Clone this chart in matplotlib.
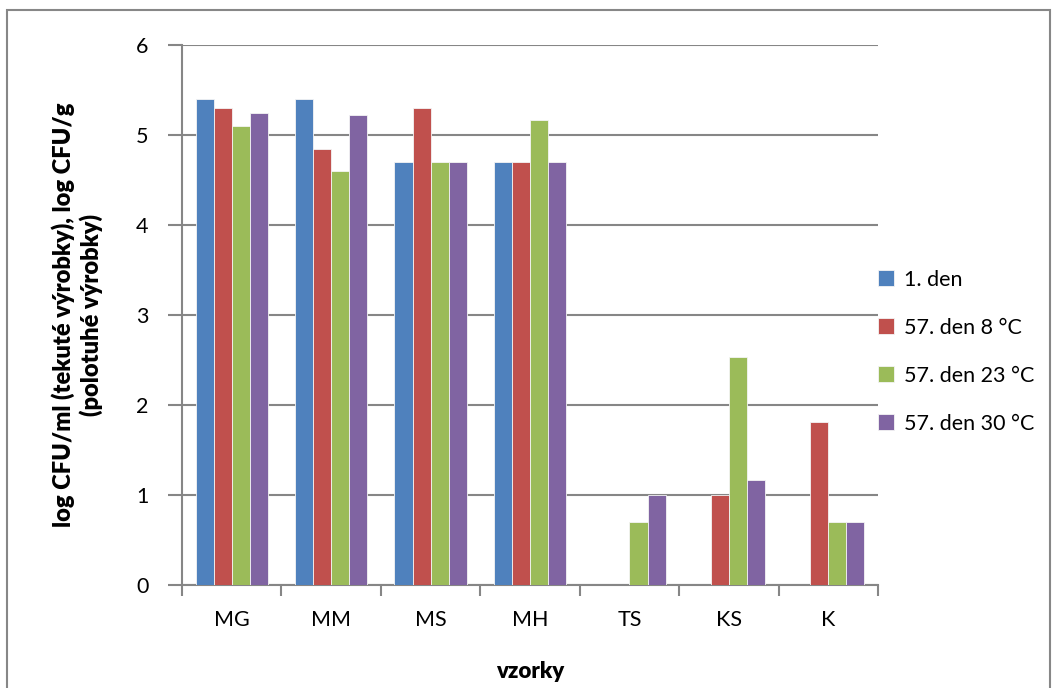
import numpy as np
import matplotlib
matplotlib.use('Agg')
import matplotlib.pyplot as plt
from matplotlib.patches import Rectangle

# Data:
lstCat = ['MG', 'MM', 'MS', 'MH', 'TS', 'KS', 'K']
lstSer = ['1. den', '57. den 8 °C', '57. den 23 °C', '57. den 30 °C']
vecDen1 = [5.40, 5.40, 4.70, 4.70, 0.0, 0.0, 0.0]
vecDen57a = [5.30, 4.84, 5.30, 4.70, 0.0, 1.00, 1.81]
vecDen57b = [5.10, 4.60, 4.70, 5.17, 0.70, 2.53, 0.70]
vecDen57c = [5.24, 5.22, 4.70, 4.70, 1.00, 1.17, 0.70]
lstYtck = [0, 1, 2, 3, 4, 5, 6]

lstClr = ['#4F81BD', '#C0504D', '#9BBB59', '#8064A2']
strGrd = '#868686'

plt.rcParams['font.family'] = ['Lato', 'DejaVu Sans']

# Create figure:
fgr01 = plt.figure(figsize=(10.57, 6.88), dpi=100)
axs01 = fgr01.add_axes([0.1722, 0.1497, 0.8307 - 0.1722, 0.9346 - 0.1497])

# Outer chart frame:
fgr01.patches.append(Rectangle((7 / 1057, -0.05), 1043 / 1057, 1.0 - 10 / 688 + 0.05,
                               transform=fgr01.transFigure, fill=False,
                               edgecolor='#878787', linewidth=1.5))

# Bars:
varBarW = 1.0 / 5.5
vecX = np.arange(len(lstCat)) + 0.5
lstVal = [vecDen1, vecDen57a, vecDen57b, vecDen57c]
for idxSer in range(len(lstSer)):
    axs01.bar(vecX + (idxSer - 1.5) * varBarW, lstVal[idxSer],
              width=varBarW, color=lstClr[idxSer], label=lstSer[idxSer],
              edgecolor='#f4f4f4', linewidth=0.6, zorder=3)

# Axis ranges:
axs01.set_xlim(0, len(lstCat))
axs01.set_ylim(0, 6)

# Grid:
axs01.set_yticks(lstYtck)
axs01.yaxis.grid(True, color=strGrd, linewidth=1.5, zorder=0)
axs01.set_axisbelow(True)

# Spines:
for strSpn in ['top', 'right']:
    axs01.spines[strSpn].set_visible(False)
for strSpn in ['left', 'bottom']:
    axs01.spines[strSpn].set_color(strGrd)
    axs01.spines[strSpn].set_linewidth(1.5)

# Ticks: category boundaries as major ticks, labels at centres:
axs01.set_xticks(np.arange(len(lstCat) + 1))
axs01.set_xticklabels([])
axs01.set_xticks(vecX, minor=True)
axs01.set_xticklabels(lstCat, minor=True)
axs01.tick_params(axis='x', which='major', length=8, width=1.5,
                  color=strGrd, direction='out')
axs01.tick_params(axis='x', which='minor', length=0, pad=18, labelsize=15.5)
axs01.tick_params(axis='y', length=10, width=1.5, color=strGrd,
                  direction='out', pad=14, labelsize=15.5)

# Axis labels:
axs01.set_xlabel('vzorky', fontsize=16, fontweight='heavy', labelpad=22)
axs01.set_ylabel('log CFU/ml (tekuté výrobky), log CFU/g\n(polotuhé výrobky)',
                 fontsize=17, fontweight='heavy', labelpad=24,
                 linespacing=1.2)

# Legend:
axs01.legend(loc='center left', bbox_to_anchor=(0.972, 0.432),
             frameon=False, fontsize=15.5, handlelength=0.75,
             handleheight=0.75, handletextpad=0.45, labelspacing=1.3)

fgr01.savefig('out.png', dpi=100, facecolor='w')
plt.close(fgr01)
